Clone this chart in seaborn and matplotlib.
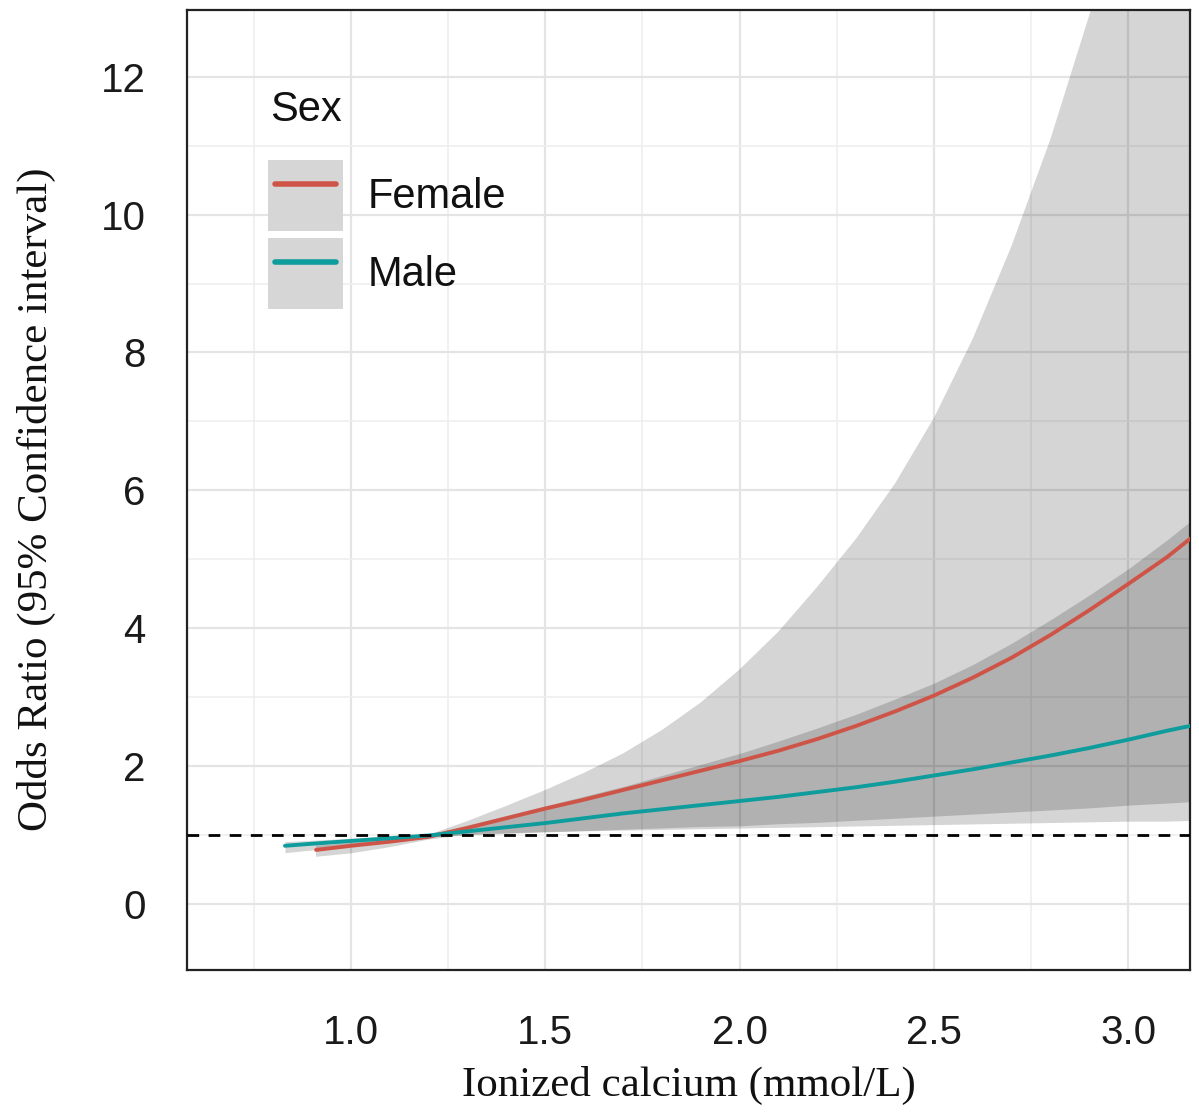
import numpy as np
import pandas as pd
import matplotlib
matplotlib.use("Agg")
import matplotlib.pyplot as plt
import seaborn as sns
from matplotlib.lines import Line2D
from matplotlib.patches import Patch
from matplotlib.legend_handler import HandlerTuple, HandlerLine2D

# --- data ---
female_x = [0.91, 1.0, 1.1, 1.2, 1.3, 1.4, 1.5, 1.6, 1.7, 1.8, 1.9, 2.0, 2.1, 2.2,
            2.3, 2.4, 2.5, 2.6, 2.7, 2.8, 2.9, 3.0, 3.1, 3.16]
female_or = [0.78, 0.84, 0.90, 0.97, 1.10, 1.24, 1.38, 1.51, 1.65, 1.79, 1.93, 2.07,
             2.22, 2.39, 2.58, 2.79, 3.02, 3.28, 3.57, 3.90, 4.26, 4.64, 5.03, 5.30]
female_lo = [0.68, 0.73, 0.82, 0.93, 1.00, 1.02, 1.04, 1.05, 1.06, 1.07, 1.08, 1.09,
             1.10, 1.11, 1.12, 1.13, 1.14, 1.15, 1.16, 1.17, 1.18, 1.19, 1.19, 1.20]
female_hi = [0.84, 0.88, 0.94, 1.00, 1.20, 1.42, 1.65, 1.90, 2.18, 2.52, 2.92, 3.40,
             3.95, 4.60, 5.30, 6.10, 7.05, 8.20, 9.55, 11.1, 12.9, 15.0, 17.5, 19.2]

male_x = [0.83, 0.9, 1.0, 1.1, 1.2, 1.3, 1.4, 1.5, 1.6, 1.7, 1.8, 1.9, 2.0, 2.1,
          2.2, 2.3, 2.4, 2.5, 2.6, 2.7, 2.8, 2.9, 3.0, 3.1, 3.16]
male_or = [0.84, 0.87, 0.91, 0.95, 0.99, 1.05, 1.11, 1.17, 1.24, 1.31, 1.37, 1.43,
           1.49, 1.55, 1.62, 1.69, 1.77, 1.86, 1.95, 2.05, 2.15, 2.26, 2.38, 2.51, 2.58]
male_lo = [0.74, 0.78, 0.85, 0.91, 0.97, 1.00, 1.02, 1.04, 1.06, 1.08, 1.10, 1.12,
           1.13, 1.16, 1.18, 1.21, 1.24, 1.27, 1.30, 1.33, 1.36, 1.39, 1.43, 1.46, 1.48]
male_hi = [0.90, 0.92, 0.95, 0.98, 1.01, 1.14, 1.28, 1.42, 1.56, 1.70, 1.86, 2.02,
           2.18, 2.36, 2.55, 2.75, 2.97, 3.20, 3.47, 3.78, 4.12, 4.48, 4.86, 5.28, 5.55]

colors = {"Female": "#CF5448", "Male": "#0E9C9C"}

df = pd.concat([
    pd.DataFrame({"calcium": female_x, "OR": female_or, "Sex": "Female"}),
    pd.DataFrame({"calcium": male_x, "OR": male_or, "Sex": "Male"}),
])

sns.set_theme(style="white")
plt.rcParams["font.family"] = ["Liberation Sans", "DejaVu Sans"]

fig = plt.figure(figsize=(11.99, 11.16), dpi=100)
ax = fig.add_axes([0.156, 0.131, 0.8365, 0.86])

fill_kw = dict(color="black", alpha=0.165, linewidth=0)
ax.fill_between(female_x, female_lo, female_hi, **fill_kw)
ax.fill_between(male_x, male_lo, male_hi, **fill_kw)

sns.lineplot(data=df, x="calcium", y="OR", hue="Sex", palette=colors,
             linewidth=2.8, ax=ax, legend=False, zorder=3)
ax.axhline(1, color="black", linestyle=(0, (4.2, 3.4)), linewidth=2, zorder=4)

ax.set_xlim(0.578, 3.159)
ax.set_ylim(-0.96, 12.97)
ax.set_xticks([1.0, 1.5, 2.0, 2.5, 3.0])
ax.set_xticklabels(["1.0", "1.5", "2.0", "2.5", "3.0"])
ax.set_yticks([0, 2, 4, 6, 8, 10, 12])
ax.set_xticks([0.75, 1.25, 1.75, 2.25, 2.75], minor=True)
ax.set_yticks([1, 3, 5, 7, 9, 11], minor=True)
ax.grid(True, which="major", color="#e4e4e4", linewidth=1.6)
ax.grid(True, which="minor", color="#eeeeee", linewidth=1.1)
ax.set_axisbelow(True)

for s in ax.spines.values():
    s.set_color("#222222")
    s.set_linewidth(1.6)
ax.tick_params(axis="both", which="major", labelsize=29, colors="#222222",
               length=6, width=1.3, direction="out", labelcolor="#1a1a1a")
ax.tick_params(axis="both", which="minor", length=0)
ax.tick_params(axis="y", pad=24)
ax.tick_params(axis="x", pad=26)

ax.set_xlabel("Ionized calcium (mmol/L)", family="Liberation Serif", fontsize=31,
              color="#111111", labelpad=10)
ax.set_ylabel("Odds Ratio (95% Confidence interval)", family="Liberation Serif",
              fontsize=31, color="#111111")
ax.yaxis.set_label_coords(-0.131, 0.49)

ax.text(0.083, 0.896, "Sex", transform=ax.transAxes, fontsize=30,
        color="#111111", va="center", ha="left")

handles = []
for name in ["Female", "Male"]:
    handles.append((Patch(facecolor="#d6d6d6", edgecolor="none"),
                    Line2D([0], [0], color=colors[name], linewidth=4)))
leg = ax.legend(handles, ["Female", "Male"],
                handler_map={tuple: HandlerTuple(ndivide=1, pad=0),
                             Line2D: HandlerLine2D(numpoints=2, marker_pad=0.17)},
                loc="upper left", bbox_to_anchor=(0.0808, 0.8437),
                frameon=False, fontsize=30,
                handlelength=1.8, handleheight=2.24, handletextpad=0.6,
                labelspacing=0.17, borderaxespad=0, borderpad=0)
for t in leg.get_texts():
    t.set_color("#111111")

fig.savefig("out.png", dpi=100)
